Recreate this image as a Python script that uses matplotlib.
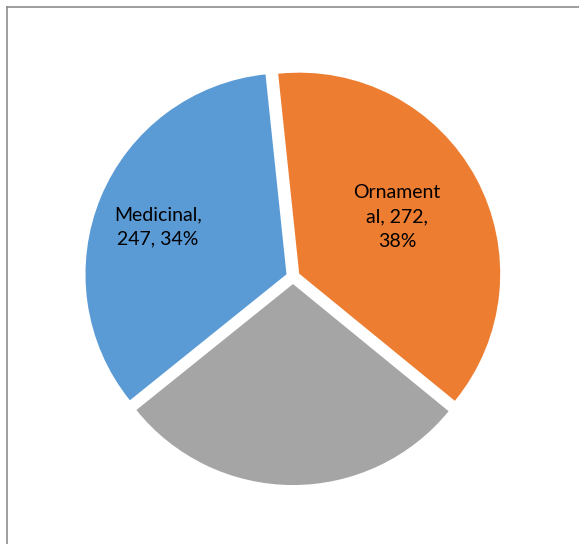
import matplotlib
matplotlib.use("Agg")
import matplotlib.pyplot as plt
from matplotlib.lines import Line2D

# data (gray slice has no label in the source, value estimated from its angle)
categories = ["Ornamental", "Other", "Medicinal"]
values = [272, 205, 247]
label_text = ["Ornament\nal, 272,\n38%", "", "Medicinal,\n247, 34%"]
colors = ["#ED7D31", "#A5A5A5", "#5B9BD5"]

W, H = 579, 544
fig = plt.figure(figsize=(W / 100, H / 100), dpi=100)
fig.patch.set_facecolor("white")

# pie centre ~ (293, 277) px, radius ~ 201 px
cx, cy, r, half = 293, 277, 201, 250
ax = fig.add_axes([(cx - half) / W, (H - cy - half) / H, 2 * half / W, 2 * half / H])

wedges, texts = ax.pie(values, colors=colors, startangle=96, counterclock=False,
                       explode=[0.035, 0.035, 0.035],
                       wedgeprops=dict(linewidth=0))
lim = half / r
ax.set_xlim(-lim, lim)
ax.set_ylim(-lim, lim)
ax.set_aspect("auto")

# data labels placed inside slices like Excel
def px_to_data(px, py):
    return (px - cx) / r, (cy - py) / r

for txt, pos in zip(label_text, [(397, 217), None, (158, 227)]):
    if not txt:
        continue
    x, y = px_to_data(*pos)
    ax.text(x, y, txt, ha="center", va="center", fontsize=14, family="Lato",
            color="#000000", linespacing=1.55)

# chart-area border (only left and top visible in crop)
border = "#8c8c8c"
fig.add_artist(Line2D([6.5 / W, 6.5 / W], [0, 1 - 6.5 / H], transform=fig.transFigure,
                      color=border, linewidth=1.2))
fig.add_artist(Line2D([6.5 / W, 1], [1 - 6.5 / H, 1 - 6.5 / H], transform=fig.transFigure,
                      color=border, linewidth=1.2))

fig.savefig("out.png", dpi=100)
